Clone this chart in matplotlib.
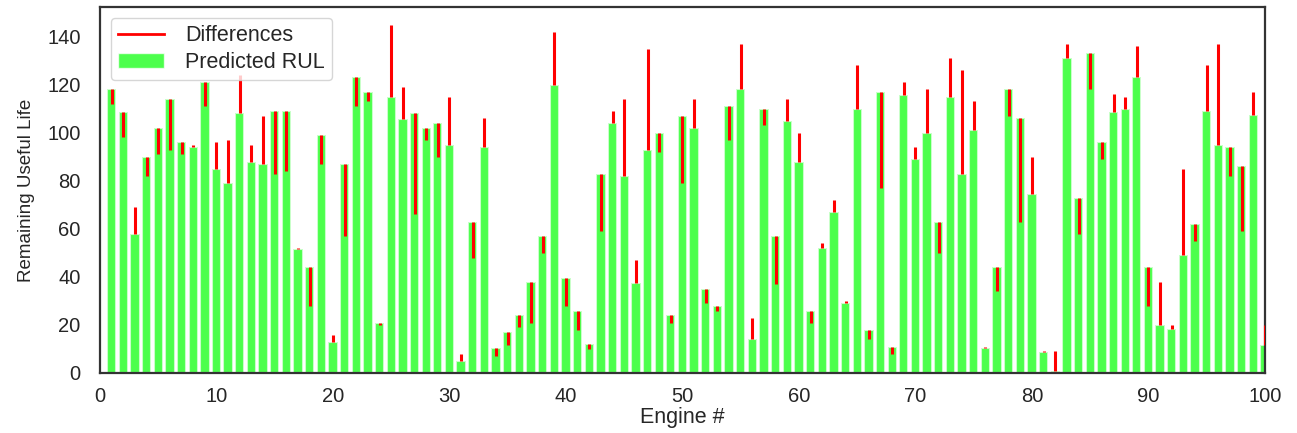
import numpy as np
import matplotlib
matplotlib.use("Agg")
import matplotlib.pyplot as plt
from matplotlib.lines import Line2D
from matplotlib.patches import Patch

# engine numbers 1..100
engines = np.arange(1, 101)

# predicted RUL per engine
predicted_rul = [
    118, 108.5, 58, 90, 102, 114, 96, 94, 121, 85,
    79, 108, 88, 87, 109, 109, 51.5, 44, 99, 13,
    87, 123, 117, 21, 115, 105.5, 108, 102, 104, 95,
    5, 63, 94, 10.5, 17, 24, 38, 57, 120, 39.5,
    26, 12, 83, 104, 82, 37.5, 93, 100, 24, 107,
    102, 35, 28, 111, 118, 14, 110, 57, 105, 88,
    26, 52, 67, 29, 110, 18, 117, 11, 115.5, 89,
    100, 63, 115, 83, 101, 10.4, 44, 118, 106, 74.5,
    8.6, 1, 131, 73, 133, 96, 108.5, 110, 123, 44,
    20, 18.5, 49, 62, 109, 95, 94, 86, 107.5, 11.5,
]

# true RUL per engine (other end of the red difference line)
true_rul = [
    112, 98, 69, 82, 91, 93, 91, 95, 111, 96,
    97, 124, 95, 107, 83, 84, 52, 28, 87, 16,
    57, 111, 113, 20, 145, 119, 66, 97, 90, 115,
    8, 48, 106, 7, 11.5, 19, 21, 50, 142, 28,
    18, 10, 59, 109, 114, 47, 135, 92, 21, 79,
    114, 29, 26, 97, 137, 23, 103, 37, 114, 100,
    21, 54, 72, 30, 128, 14, 77, 8, 121, 94,
    118, 50, 131, 126, 113, 10.8, 34, 107, 63, 90,
    9, 9, 137, 58, 118, 89, 116, 115, 136, 28,
    38, 20, 85, 55, 128, 137, 82, 59, 117, 20,
]

plt.rcParams['font.family'] = ['Liberation Sans', 'DejaVu Sans']
text_color = '#262626'

fig = plt.figure(figsize=(12.97, 4.33), dpi=100)
ax = fig.add_axes([0.0771, 0.1386, 0.8982, 0.8452])

ax.bar(engines, predicted_rul, width=0.8, color='lime', alpha=0.7,
       edgecolor='white', linewidth=1.5, zorder=2)
ax.vlines(engines, predicted_rul, true_rul, color='red', linewidth=2.2, zorder=3)

ax.set_xlim(0, 100)
ax.set_ylim(0, 152.3)
ax.set_xticks(np.arange(0, 101, 10))
ax.set_yticks(np.arange(0, 141, 20))
ax.tick_params(axis='both', length=0, labelsize=14.5, labelcolor=text_color)
ax.tick_params(axis='y', pad=14)
ax.tick_params(axis='x', pad=10)
ax.set_xlabel('Engine #', fontsize=15.5, color=text_color, labelpad=1)
ax.set_ylabel('Remaining Useful Life', fontsize=13.5, color=text_color, labelpad=9)

for s in ax.spines.values():
    s.set_color('#333333')
    s.set_linewidth(1.6)

handles = [Line2D([0], [0], color='red', linewidth=2),
           Patch(facecolor='lime', alpha=0.7, edgecolor='white')]
leg = ax.legend(handles, ['Differences', 'Predicted RUL'], loc='upper left',
                fontsize=15.5, frameon=True, handlelength=2.1, borderpad=0.35,
                labelspacing=0.25, handletextpad=1.0, borderaxespad=0.5)
leg.get_frame().set_edgecolor('#cccccc')
for t in leg.get_texts():
    t.set_color(text_color)

fig.savefig('out.png', dpi=100)
